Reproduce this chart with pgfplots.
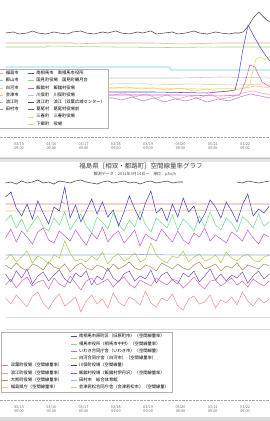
\documentclass[border=0pt]{standalone}
\usepackage{fontspec}
\setmainfont{Noto Sans CJK JP}
\usepackage{pgfplots}
\usepackage{pgfplotstable}
\pgfplotsset{compat=1.18}

% top chart colours
\definecolor{tBlack}{RGB}{75,75,75}
\definecolor{tSalmon}{RGB}{240,165,150}
\definecolor{tGreen}{RGB}{150,220,120}
\definecolor{tCyan}{RGB}{110,205,230}
\definecolor{tLGray}{RGB}{190,195,210}
\definecolor{tTan}{RGB}{230,205,160}
\definecolor{tOrange}{RGB}{245,195,120}
\definecolor{tPink}{RGB}{240,160,190}
\definecolor{tPurple}{RGB}{190,125,220}
\definecolor{tBlue}{RGB}{80,80,205}
\definecolor{tYellow}{RGB}{240,220,90}
\definecolor{tMagenta}{RGB}{215,95,210}
\definecolor{tNavy}{RGB}{90,100,140}
% bottom chart colours
\definecolor{bBlack}{RGB}{70,70,70}
\definecolor{bRed}{RGB}{230,125,125}
\definecolor{bOrange}{RGB}{240,195,135}
\definecolor{bBlue}{RGB}{75,70,200}
\definecolor{bGreen}{RGB}{120,220,140}
\definecolor{bMagenta}{RGB}{200,100,220}
\definecolor{bSteel}{RGB}{150,170,205}
\definecolor{bYG}{RGB}{170,210,80}
\definecolor{bOlive}{RGB}{175,145,95}
\definecolor{bPurple}{RGB}{130,90,200}
\definecolor{bMag2}{RGB}{210,115,200}
\definecolor{bPink}{RGB}{240,150,150}
\definecolor{bLG}{RGB}{222,222,222}
\definecolor{bLBlue}{RGB}{150,190,235}

\pgfplotstableread{
x b g m yg ol p m2 pk k
-10 20.3 17.9 16.2 14.0 13.5 12.6 11.5 10.2 21.7
-6 20.8 18.5 17.1 14.6 13.1 11.8 12.1 9.6 21.8
-2 19.2 17.2 15.8 13.8 13.7 12.9 11.2 10.5 21.6
2 18.4 18.1 16.9 14.3 13.2 12.2 11.9 9.9 21.9
6 19.6 16.8 16.3 14.9 12.9 13.1 12.3 9.3 21.7
10 18.1 17.7 15.6 13.7 13.6 11.6 11.4 10.4 21.8
14 19.9 18.4 16.8 14.4 13.4 12.4 11.8 10.8 22.0
18 18.7 17.3 17.2 14.1 13.0 12.8 12.0 9.7 21.7
22 17.6 16.9 16.0 13.6 13.8 11.9 11.1 9.1 21.8
26 19.3 18.2 15.7 14.5 13.3 12.5 12.2 10.0 21.6
30 18.9 17.5 16.9 14.2 13.1 13.0 11.6 10.6 21.9
34 21.3 18.8 16.4 15.9 13.6 12.1 11.3 9.4 21.8
38 18.2 17.0 15.9 14.7 12.8 11.7 12.4 9.8 21.7
42 19.5 17.9 17.0 13.9 13.4 12.7 11.7 10.3 21.9
46 17.8 18.6 16.2 14.1 13.7 12.3 11.0 8.8 22.0
50 18.9 17.4 15.5 13.8 13.2 12.9 11.9 9.9 21.8
54 20.1 16.7 16.7 14.4 13.0 11.5 12.2 10.5 21.7
58 18.6 18.3 16.1 14.0 13.5 12.4 11.5 9.6 21.6
62 19.8 17.8 17.3 14.8 13.3 12.0 11.8 10.1 21.8
66 18.3 17.1 15.8 13.6 12.9 13.2 12.1 9.2 21.9
70 19.0 18.7 16.5 14.3 13.6 12.2 11.3 10.7 21.7
74 17.4 17.6 16.9 14.6 13.1 11.8 11.9 9.8 21.8
78 18.8 16.9 15.7 13.9 13.4 12.6 12.3 9.4 21.9
82 20.4 18.0 16.3 14.2 13.8 12.9 11.6 10.3 21.7
86 19.1 17.3 17.0 14.7 13.2 11.9 11.2 10.0 21.8
90 18.0 18.9 15.4 13.8 13.0 12.4 12.0 9.5 21.6
94 19.7 17.5 16.6 14.1 13.5 12.1 11.7 10.9 21.8
98 20.9 16.8 16.2 15.7 13.3 13.0 11.4 9.7 21.9
102 18.7 18.2 15.9 14.5 12.9 11.7 12.2 9.3 21.7
106 19.2 17.7 17.1 14.0 13.7 12.5 11.8 10.2 21.8
110 17.9 17.2 16.4 13.7 13.4 12.8 11.5 9.9 21.9
114 19.6 18.5 15.8 14.4 13.1 12.0 12.1 10.6 21.7
118 18.3 17.0 16.9 14.2 13.6 11.6 11.9 9.4 21.8
122 20.2 18.1 16.0 14.9 13.2 12.7 11.2 9.0 21.8
126 18.8 17.6 15.6 13.8 13.0 12.3 11.7 10.1 nan
130 19.4 16.9 16.7 14.3 13.5 12.9 12.3 10.4 nan
134 17.7 18.4 16.3 14.6 13.8 11.8 11.6 9.6 nan
138 18.6 17.3 17.2 13.9 13.1 12.4 11.1 9.8 nan
142 20.0 18.8 15.9 14.1 13.3 13.1 11.9 10.5 nan
146 19.3 17.5 16.5 14.5 13.6 12.0 12.0 9.2 nan
150 18.2 17.0 16.1 13.7 12.9 12.6 11.4 10.0 nan
154 19.8 18.2 15.7 14.8 13.4 11.9 11.8 9.7 nan
158 18.9 17.7 16.8 14.2 13.2 12.5 12.2 10.3 nan
162 17.8 16.8 16.4 13.9 13.7 12.2 11.5 9.5 21.8
166 19.5 18.3 15.9 14.4 13.0 12.8 11.9 10.8 21.7
170 20.6 17.9 17.0 14.6 13.5 11.7 11.3 9.9 21.9
174 18.4 17.2 16.2 14.0 13.3 12.4 12.1 9.4 21.8
178 19.1 18.6 15.6 13.8 13.1 12.9 11.7 10.2 21.7
182 18.7 17.4 16.6 14.3 13.6 12.1 11.4 9.7 21.8
186 19.4 17.8 16.3 14.5 13.4 12.6 11.9 10.1 21.9
}\bottomdata

\pgfplotsset{
  common/.style={
    scale only axis, anchor=south west, width=270bp,
    xmin=-14.1, xmax=186.5,
    axis x line*=bottom, axis y line=none,
    x axis line style={draw=gray!70, dash pattern=on 2.5bp off 1bp, line width=0.6bp},
    major tick length=0bp,
    xtick={0,24,48,72,96,120,144,168},
    xticklabels={{03/15\\09:00},{03/16\\09:00},{03/17\\09:00},{03/18\\09:00},{03/19\\09:00},{03/20\\09:00},{03/21\\09:00},{03/22\\09:00}},
    xticklabel style={align=center, font=\fontsize{3.8}{4.4}\selectfont, text=gray!85!black, yshift=-1.5bp},
    /pgf/number format/assume math mode=true,
    every axis plot/.append style={line width=0.55bp, forget plot},
    legend columns=2,
    legend cell align=left,
    legend image code/.code={\draw[##1, line width=0.8bp] (0bp,0bp) -- (6bp,0bp);},
  },
}

\begin{document}
\begin{tikzpicture}[x=1bp,y=1bp]
\useasboundingbox (0,0) rectangle (270,421);
\clip (0,0) rectangle (270,421);
\fill[white] (0,0) rectangle (270,421);
\fill[gray!20] (0,258.5) rectangle (270,264);
\fill[gray!50] (0,261.5) rectangle (270,263);
\fill[gray!28] (0,0.5) rectangle (270,4.5);
\node[font=\fontsize{6.5}{7}\selectfont, text=black!75] at (141,255) {福島県［相双・都路町］空間線量率グラフ};
\node[font=\fontsize{4}{4.5}\selectfont, text=black!70] at (135,247) {観測データ：2011年3月14日〜　単位：μSv/h};

% ---------------- top chart ----------------
\begin{axis}[common, at={(0,284)}, height=142bp, ymin=0, ymax=14.2,
  legend style={at={(0.4,0.479)}, anchor=north east, draw=gray!60, fill=white,
    font=\fontsize{4.3}{4.6}\selectfont, inner sep=0.8bp, row sep=0bp,
    nodes={inner ysep=1.05bp},
    /tikz/every even column/.append style={column sep=7bp}}]
\addplot[tBlack] coordinates {(-10,10.4) (-4,10.5) (0,10.3) (6,10.4) (10,10.6) (14,10.4) (20,10.3) (26,10.5) (30,10.4) (36,10.3) (40,10.5) (46,10.6) (50,10.4) (56,10.3) (62,10.5) (66,10.4) (72,10.6) (76,10.4) (82,10.3) (88,10.5) (92,10.4) (98,10.6) (102,10.3) (108,10.4) (114,10.5) (118,10.3) (124,10.4) (130,10.6) (134,10.4) (140,10.3) (146,10.5) (150,10.4) (156,10.3) (160,10.4) (164,10.4) (166.4,10.5) (170,11.0) (174,11.9) (178.3,12.5) (181,12.1) (184,11.7) (186.5,11.5)};
\addplot[tSalmon] coordinates {(-10,9.4) (40,9.4) (42,9.3) (60,9.4) (100,9.4) (120,9.3) (150,9.4) (186.5,9.4)};
\addplot[tGreen] coordinates {(-10,9.0) (20,9.0) (22,9.1) (70,9.0) (110,8.95) (150,9.0) (186.5,9.0)};
\addplot[tCyan] coordinates {(-10,7.0) (60,7.0) (112,7.0) (113,6.7) (186.5,6.7)};
\addplot[tLGray] coordinates {(-10,6.0) (60,6.0) (62,5.9) (120,5.9) (150,6.0) (186.5,5.9)};
\addplot[tTan] coordinates {(-10,5.3) (70,5.3) (90,5.4) (100,5.2) (130,5.3) (160,5.2) (186.5,5.3)};
\addplot[tOrange] coordinates {(-10,4.9) (70,4.9) (80,5.0) (90,4.8) (100,4.9) (110,4.7) (120,4.9) (130,4.6) (140,4.8) (150,4.5) (160,4.7) (168,4.9) (176,5.1) (186.5,4.9)};
\addplot[tPink] coordinates {(-10,4.2) (70,4.2) (78,4.4) (86,4.0) (94,4.3) (102,3.9) (110,4.2) (118,3.8) (126,4.1) (134,3.9) (142,4.3) (150,3.8) (158,4.0) (166,4.4) (174,4.6) (186.5,4.2)};
\addplot[tPurple] coordinates {(-10,3.9) (70,3.9) (76,3.7) (84,4.0) (92,3.6) (100,3.9) (108,3.5) (116,3.8) (124,3.6) (132,3.9) (140,3.5) (148,3.8) (156,3.6) (164,4.0) (172,4.3) (186.5,3.9)};
\addplot[tYellow] coordinates {(-10,4.9) (100,4.9) (140,4.8) (168,4.9) (171.6,5.3) (174,6.8) (176.1,7.8) (180,8.0) (183,7.7) (186.5,8.1)};
\addplot[tMagenta] coordinates {(-10,4.2) (120,4.2) (150,4.1) (164,4.2) (168,5.5) (171.6,7.2) (175.4,7.0) (178,6.2) (180.6,5.5) (186.5,5.0)};
\addplot[tBlue] coordinates {(-10,4.5) (100,4.5) (140,4.4) (156,4.6) (160.5,4.7) (163,6.0) (166,8.5) (170.2,11.2) (174,10.2) (179.1,9.0) (183,8.2) (186.5,7.6)};
\addlegendimage{tSalmon}\addlegendentry{福島市}
\addlegendimage{tBlue}\addlegendentry{南相馬市　南相馬市役所}
\addlegendimage{tCyan}\addlegendentry{郡山市}
\addlegendimage{tGreen}\addlegendentry{国見町役場　国見町観月台}
\addlegendimage{tTan}\addlegendentry{白河市}
\addlegendimage{tMagenta}\addlegendentry{飯舘村　飯舘村役場}
\addlegendimage{tOrange}\addlegendentry{会津市}
\addlegendimage{tLGray}\addlegendentry{川俣町　川俣町役場}
\addlegendimage{tPink}\addlegendentry{浪江町}
\addlegendimage{tBlack}\addlegendentry{浪江町　浪江（双葉広域センター）}
\addlegendimage{tPurple}\addlegendentry{田村市}
\addlegendimage{tNavy}\addlegendentry{葛尾村　葛尾村役場前}
\addlegendimage{empty legend}\addlegendentry{}
\addlegendimage{tYellow}\addlegendentry{三春町　三春町役場}
\addlegendimage{empty legend}\addlegendentry{}
\addlegendimage{tTan}\addlegendentry{下郷町　役場}
\end{axis}

% ---------------- bottom chart ----------------
\begin{axis}[common, at={(0,21)}, height=222bp, ymin=0, ymax=22.2,
  legend style={at={(0.637,0.306)}, anchor=north east, draw=gray!60, fill=white,
    font=\fontsize{4.3}{4.6}\selectfont, inner sep=0.8bp, row sep=0bp,
    nodes={inner ysep=1.05bp},
    /tikz/every even column/.append style={column sep=6bp}}]
\addplot[bLG] coordinates {(-10,8.3) (186.5,8.3)};
\addplot[bLG] coordinates {(-10,7.1) (186.5,7.1)};
\addplot[bPink] table[x=x, y=pk] {\bottomdata};
\addplot[bMag2] table[x=x, y=m2] {\bottomdata};
\addplot[bPurple] table[x=x, y=p] {\bottomdata};
\addplot[bOlive] table[x=x, y=ol] {\bottomdata};
\addplot[bYG] table[x=x, y=yg] {\bottomdata};
\addplot[bSteel] coordinates {(-10,14.5) (60,14.5) (62,14.6) (120,14.5) (186.5,14.5)};
\addplot[bMagenta] table[x=x, y=m] {\bottomdata};
\addplot[bGreen] table[x=x, y=g] {\bottomdata};
\addplot[bOrange] coordinates {(-10,18.9) (80,18.9) (82,19.0) (186.5,18.9)};
\addplot[bRed] coordinates {(-10,19.6) (30,19.6) (32,19.8) (34,19.6) (90,19.6) (92,19.7) (94,19.6) (186.5,19.6)};
\addplot[bBlue] table[x=x, y=b] {\bottomdata};
\addplot[bBlack, unbounded coords=jump] table[x=x, y=k] {\bottomdata};
\addlegendimage{empty legend}\addlegendentry{}
\addlegendimage{bBlue}\addlegendentry{南相馬市原町区（旧原町市）（空間線量率）}
\addlegendimage{empty legend}\addlegendentry{}
\addlegendimage{bGreen}\addlegendentry{相馬市役所（相馬市中村）（空間線量率）}
\addlegendimage{empty legend}\addlegendentry{}
\addlegendimage{bMagenta}\addlegendentry{いわき合同庁舎（いわき市）（空間線量）}
\addlegendimage{empty legend}\addlegendentry{}
\addlegendimage{bYG}\addlegendentry{白河合同庁舎（白河市）（空間線量率）}
\addlegendimage{bRed}\addlegendentry{双葉町役場（空間線量率）}
\addlegendimage{bBlack}\addlegendentry{川俣町役場（空間線量）}
\addlegendimage{bPink}\addlegendentry{浪江町役場（空間線量率）}
\addlegendimage{bPurple}\addlegendentry{飯舘村役場（飯舘村伊丹沢）（空間線量率）}
\addlegendimage{bOlive}\addlegendentry{大熊町役場（空間線量率）}
\addlegendimage{bLBlue}\addlegendentry{田村市　総合体育館}
\addlegendimage{bOrange}\addlegendentry{福島県庁（空間線量率）}
\addlegendimage{bOrange}\addlegendentry{会津若松合同庁舎（会津若松市）（空間線量）}
\end{axis}
\end{tikzpicture}
\end{document}
